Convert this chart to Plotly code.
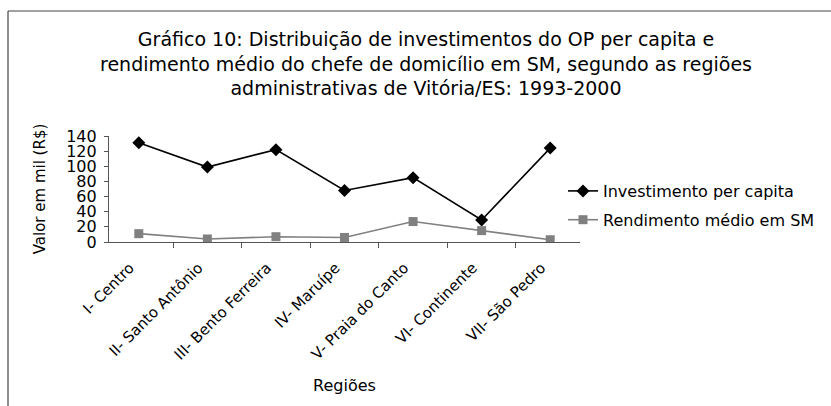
import plotly.graph_objects as go

categories = ["I- Centro", "II- Santo Antônio", "III- Bento Ferreira", "IV- Maruípe",
              "V- Praia do Canto", "VI- Continente", "VII- São Pedro"]
investimento = [131, 99, 122, 68, 85, 29, 124]
rendimento = [11, 4, 7, 6, 27, 15, 3]
y_ticks = [0, 20, 40, 60, 80, 100, 120, 140]

title_text = ("Gráfico 10: Distribuição de investimentos do OP per capita e<br>"
              "rendimento médio do chefe de domicílio em SM, segundo as regiões<br>"
              "administrativas de Vitória/ES: 1993-2000")

FONT = "DejaVu Sans, Verdana, sans-serif"

fig = go.Figure()
fig.add_trace(go.Scatter(
    x=categories, y=investimento, mode="lines+markers", name="Investimento per capita",
    line=dict(color="#000000", width=1.6),
    marker=dict(symbol="diamond", size=10, color="#000000"),
    legendgroup="a"))
fig.add_trace(go.Scatter(
    x=categories, y=rendimento, mode="lines+markers", name="Rendimento médio em SM",
    line=dict(color="#808080", width=1.6),
    marker=dict(symbol="square", size=9, color="#808080"),
    legendgroup="b"))

W, H = 831, 406
L, R, T, B = 109, 251, 136, 164
pw, ph = W - L - R, H - T - B

def px(x):
    return (x - L) / pw

def py(y):
    return (H - B - y) / ph

fig.update_layout(
    width=W, height=H,
    margin=dict(l=L, r=R, t=T, b=B, autoexpand=False),
    paper_bgcolor="white", plot_bgcolor="white",
    font=dict(family=FONT, color="#000000"),
    showlegend=True,
    legend=dict(x=px(563), y=py(174), xanchor="left", yanchor="top",
                font=dict(size=16, family=FONT), traceorder="grouped",
                tracegroupgap=5, bgcolor="rgba(0,0,0,0)"),
    xaxis=dict(
        type="category", tickangle=-45, tickfont=dict(size=15), automargin=False,
        ticklabelstandoff=10, ticklabelshift=-9,
        showline=True, linecolor="#555555", linewidth=1.2,
        ticks="outside", tickson="boundaries", ticklen=5, tickcolor="#555555",
        showgrid=False, zeroline=False,
        title=dict(text="Regiões", font=dict(size=16), standoff=17),
    ),
    yaxis=dict(
        range=[0, 140], tickvals=y_ticks, ticktext=[str(v) for v in y_ticks],
        tickfont=dict(size=16), automargin=False, ticklabelstandoff=4,
        showline=True, linecolor="#555555", linewidth=1.2,
        ticks="outside", ticklen=4, tickcolor="#555555",
        showgrid=False, zeroline=False,
        title=dict(text="Valor em mil (R$)", font=dict(size=15), standoff=16),
    ),
    annotations=[dict(
        text=title_text, xref="paper", yref="paper", x=px(426), y=py(26),
        xanchor="center", yanchor="top", showarrow=False,
        font=dict(size=19, family=FONT), align="center")],
    shapes=[
        dict(type="line", xref="paper", yref="paper", x0=px(8), x1=px(840),
             y0=py(11), y1=py(11), line=dict(color="#444444", width=1.2)),
        dict(type="line", xref="paper", yref="paper", x0=px(8), x1=px(8),
             y0=py(11), y1=py(420), line=dict(color="#444444", width=1.2)),
    ],
)

fig.write_html("out.html", config={"displayModeBar": False},
               post_script="document.body.style.margin='0';")
